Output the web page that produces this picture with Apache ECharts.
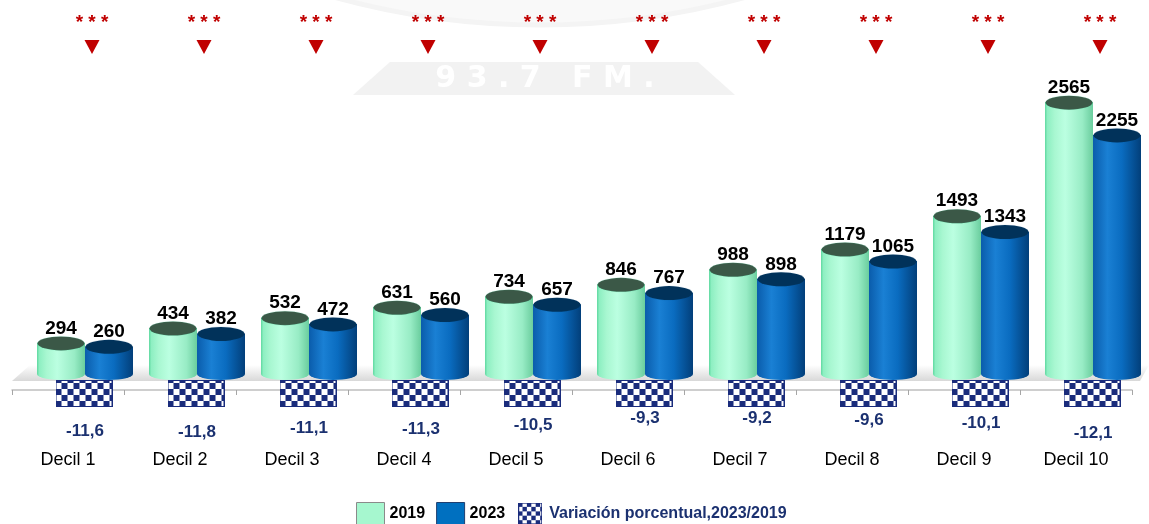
<!DOCTYPE html>
<html>
<head>
<meta charset="utf-8">
<script src="https://cdn.jsdelivr.net/npm/echarts@6/dist/echarts.min.js"></script>
<style>
  html, body { margin: 0; padding: 0; background: #fff; }
  #chart { width: 1149px; height: 524px; }
</style>
</head>
<body>
<div id="chart"></div>
<script>
var categorias = ['Decil 1', 'Decil 2', 'Decil 3', 'Decil 4', 'Decil 5', 'Decil 6', 'Decil 7', 'Decil 8', 'Decil 9', 'Decil 10'];
var valores2019 = [294, 434, 532, 631, 734, 846, 988, 1179, 1493, 2565];
var valores2023 = [260, 382, 472, 560, 657, 767, 898, 1065, 1343, 2255];
var variacion = [-11.6, -11.8, -11.1, -11.3, -10.5, -9.3, -9.2, -9.6, -10.1, -12.1];
var significancia = ['***', '***', '***', '***', '***', '***', '***', '***', '***', '***'];

var fuente = '"Liberation Sans", Arial, sans-serif';
var navy = '#1b3170';

// caja de cuadros (imagen) para la variacion
function checker(w, h, size) {
    var c = document.createElement('canvas');
    c.width = w;
    c.height = h;
    var ctx = c.getContext('2d');
    ctx.fillStyle = '#ffffff';
    ctx.fillRect(0, 0, w, h);
    ctx.fillStyle = '#1a2c7c';
    for (var y = 0; y < h; y += size) {
        for (var x = 0; x < w; x += size) {
            if (((x / size) + (y / size)) % 2 === 0) ctx.fillRect(x, y, size, size);
        }
    }
    ctx.strokeStyle = '#1a2c7c';
    ctx.lineWidth = 1;
    ctx.strokeRect(0.5, 0.5, w - 1, h - 1);
    return 'image://' + c.toDataURL();
}
var cajaVariacion = checker(57, 27, 6);
var cajaLeyenda = checker(22, 20, 4);

var grad2019 = new echarts.graphic.LinearGradient(0, 0, 1, 0, [
    { offset: 0, color: '#5fd8a0' },
    { offset: 0.05, color: '#8eefc2' },
    { offset: 0.2, color: '#a8f7d1' },
    { offset: 0.42, color: '#bbffe1' },
    { offset: 0.78, color: '#98ecc5' },
    { offset: 1, color: '#6acd9e' }
]);
var grad2023 = new echarts.graphic.LinearGradient(0, 0, 1, 0, [
    { offset: 0, color: '#0a5cab' },
    { offset: 0.3, color: '#1a80d4' },
    { offset: 0.6, color: '#0a6cc0' },
    { offset: 1, color: '#023f7a' }
]);

var chart = echarts.init(document.getElementById('chart'));

var option = {
    animation: false,
    backgroundColor: '#ffffff',
    graphic: [
        { type: 'circle', silent: true, z: -10, shape: { cx: 540, cy: -748, r: 773 },
          style: { fill: '#f9f9f9', stroke: '#f4f4f4', lineWidth: 5 } },
        { type: 'polygon', silent: true, z: -10, shape: { points: [[390, 62], [698, 62], [735, 95], [353, 95]] },
          style: { fill: '#f2f2f2' } },
        { type: 'text', silent: true, z: -9, x: 545, y: 79,
          style: { text: '9 3 . 7   F M .', fill: '#ffffff', font: 'bold 30px "DejaVu Sans"', align: 'center', verticalAlign: 'middle' } },
        { type: 'polygon', silent: true, z: -5, shape: { points: [[12, 381], [30, 365], [1149, 365], [1140, 381]] },
          style: { fill: new echarts.graphic.LinearGradient(0, 0, 0, 1, [
              { offset: 0, color: '#ffffff' }, { offset: 1, color: '#d8d8d8' }]) } }
    ],
    legend: {
        left: 351,
        top: 497,
        itemWidth: 28,
        itemHeight: 22,
        itemGap: 11,
        selectedMode: false,
        textStyle: { fontFamily: fuente, fontSize: 16, fontWeight: 'bold', color: '#000' },
        data: [
            { name: '2019', icon: 'rect', itemStyle: { color: '#a6f7cf', borderColor: '#8a8a8a', borderWidth: 1 } },
            { name: '2023', icon: 'rect', itemStyle: { color: '#0070c0', borderColor: '#1f3f70', borderWidth: 1 } },
            { name: 'Variación porcentual,2023/2019', icon: cajaLeyenda, textStyle: { color: navy } }
        ]
    },
    grid: [
        { left: 29, right: 0, top: 56, bottom: 150 },   // barras
        { left: 29, right: 0, top: 369, bottom: 75 },   // variacion
        { left: 12, right: 17, top: 300, bottom: 134 }, // eje de categorias
        { left: 29, right: 0, top: 38, height: 18 }     // marcas de significancia
    ],
    xAxis: [
        { gridIndex: 0, type: 'category', data: categorias, show: false },
        { gridIndex: 1, type: 'category', data: categorias, show: false },
        { gridIndex: 2, type: 'category', data: categorias,
          axisLine: { lineStyle: { color: '#bfbfbf', width: 1.5 } },
          axisTick: { show: true, length: 5, lineStyle: { color: '#a6a6a6' } },
          axisLabel: { margin: 61, color: '#000', fontSize: 18, fontFamily: fuente } },
        { gridIndex: 3, type: 'category', data: categorias, show: false }
    ],
    yAxis: [
        { gridIndex: 0, type: 'value', min: 0, max: 3000, show: false },
        { gridIndex: 1, type: 'value', min: -15, max: 0, show: false },
        { gridIndex: 2, type: 'value', min: 0, max: 1, show: false },
        { gridIndex: 3, type: 'value', min: 0, max: 1, show: false }
    ],
    series: [
        {
            name: '2019', type: 'bar', xAxisIndex: 0, yAxisIndex: 0,
            data: valores2019, barWidth: 48, barGap: '0%', z: 3,
            itemStyle: { color: grad2019 },
            label: { show: true, position: 'top', distance: 5, color: '#000', fontSize: 19, fontWeight: 'bold', fontFamily: fuente }
        },
        {
            name: '2023', type: 'bar', xAxisIndex: 0, yAxisIndex: 0,
            data: valores2023, barWidth: 48, barGap: '0%', z: 3,
            itemStyle: { color: grad2023 },
            label: { show: true, position: 'top', distance: 5, color: '#000', fontSize: 19, fontWeight: 'bold', fontFamily: fuente }
        },
        // fondos redondeados de los cilindros
        {
            name: 'base2019', type: 'pictorialBar', xAxisIndex: 0, yAxisIndex: 0,
            data: valores2019, symbol: 'circle', symbolSize: [48, 12], symbolPosition: 'start',
            symbolOffset: [-24, '50%'], barWidth: 48, barGap: '-100%', z: 2,
            itemStyle: { color: grad2019 }
        },
        {
            name: 'base2023', type: 'pictorialBar', xAxisIndex: 0, yAxisIndex: 0,
            data: valores2023, symbol: 'circle', symbolSize: [48, 12], symbolPosition: 'start',
            symbolOffset: [24, '50%'], barWidth: 48, barGap: '-100%', z: 2,
            itemStyle: { color: grad2023 }
        },
        // tapas de los cilindros
        {
            name: 'tapa2019', type: 'pictorialBar', xAxisIndex: 0, yAxisIndex: 0,
            data: valores2019, symbol: 'circle', symbolSize: [47, 14], symbolPosition: 'end',
            symbolOffset: [-24, '-50%'], barWidth: 48, barGap: '-100%', z: 4,
            itemStyle: { color: '#3b5847', borderColor: '#3ee0a4', borderWidth: 2 }
        },
        {
            name: 'tapa2023', type: 'pictorialBar', xAxisIndex: 0, yAxisIndex: 0,
            data: valores2023, symbol: 'circle', symbolSize: [47, 14], symbolPosition: 'end',
            symbolOffset: [24, '-50%'], barWidth: 48, barGap: '-100%', z: 4,
            itemStyle: { color: '#01325a', borderColor: '#0a4f8c', borderWidth: 1.5 }
        },
        {
            name: 'Variación porcentual,2023/2019', type: 'pictorialBar', xAxisIndex: 1, yAxisIndex: 1,
            data: variacion, symbol: cajaVariacion, symbolSize: [57, 27], symbolPosition: 'start',
            symbolOffset: [-1, 11], barWidth: 57, z: 3
        },
        {
            name: 'etiquetaVariacion', type: 'scatter', xAxisIndex: 1, yAxisIndex: 1,
            data: variacion, symbolSize: 2, z: 5,
            itemStyle: { color: 'rgba(0,0,0,0)', opacity: 1 },
            label: {
                show: true, position: 'inside', color: navy, opacity: 1, fontSize: 17, fontWeight: 'bold', fontFamily: fuente,
                formatter: function (p) { return String(p.value).replace('.', ','); }
            }
        },
        {
            name: 'significancia', type: 'scatter', xAxisIndex: 3, yAxisIndex: 3,
            data: significancia.map(function (s) { return { value: 0.5, name: s }; }),
            symbol: 'triangle', symbolRotate: 180, symbolSize: [15, 14], symbolOffset: [7, 0],
            itemStyle: { color: '#c00000', opacity: 1 },
            label: {
                show: true, position: 'top', distance: 8, color: '#c00000', fontSize: 19, fontWeight: 'bold',
                fontFamily: fuente,
                formatter: function (p) { return p.name.split('').join(' '); }
            }
        }
    ]
};

chart.setOption(option);
</script>
</body>
</html>
